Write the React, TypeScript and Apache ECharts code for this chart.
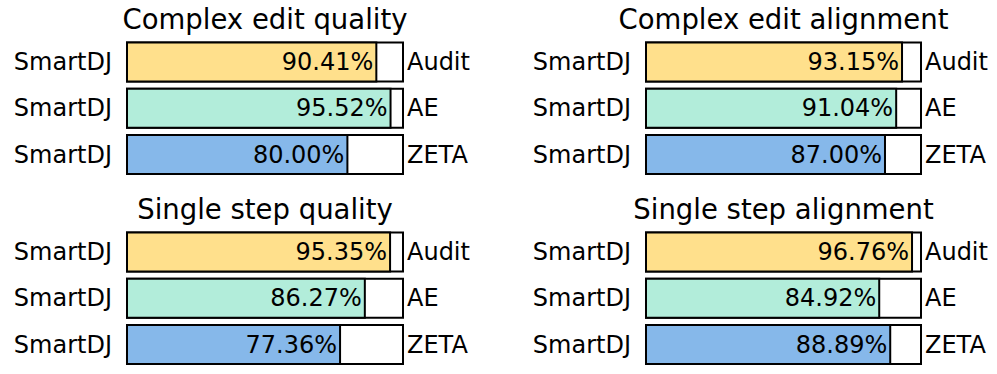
import React, { useEffect, useRef } from "react";
import * as echarts from "echarts";

const panelTitles = [
  "Complex edit quality",
  "Complex edit alignment",
  "Single step quality",
  "Single step alignment",
];
const baselineNames = ["Audit", "AE", "ZETA"];
const systemName = "SmartDJ";
const complexQuality = [90.41, 95.52, 80.0];
const complexAlignment = [93.15, 91.04, 87.0];
const singleQuality = [95.35, 86.27, 77.36];
const singleAlignment = [96.76, 84.92, 88.89];
const fullScale = [100, 100, 100];
const barColors = ["#FFE08C", "#B2EDDA", "#86B8EA"];

const panelValues = [complexQuality, complexAlignment, singleQuality, singleAlignment];

const FONT = '"DejaVu Sans", sans-serif';

export default function App() {
  const ref = useRef<HTMLDivElement>(null);
  useEffect(() => {
    if (!ref.current) return;
    const chart = echarts.init(ref.current, null, { renderer: "svg" });
    const gridPos = [
      { left: 126, top: 39, width: 278, height: 138.6 },
      { left: 645, top: 39, width: 277, height: 138.6 },
      { left: 126, top: 229, width: 278, height: 138.6 },
      { left: 645, top: 229, width: 277, height: 138.6 },
    ];
    const titleY = [18.5, 18.5, 208.5, 208.5];
    const grids: any[] = [];
    const xAxes: any[] = [];
    const yAxes: any[] = [];
    const series: any[] = [];
    const graphics: any[] = [];
    panelValues.forEach((vals, i) => {
      const g = gridPos[i];
      grids.push({ ...g, containLabel: false });
      xAxes.push({ gridIndex: i, type: "value", min: 0, max: 100, show: false });
      const baseY = {
        gridIndex: i,
        type: "category",
        data: baselineNames,
        inverse: true,
        axisLine: { show: false },
        axisTick: { show: false },
        splitLine: { show: false },
      };
      yAxes.push({
        ...baseY,
        position: "left",
        axisLabel: {
          margin: 14,
          color: "#000",
          fontSize: 24,
          fontFamily: FONT,
          formatter: () => systemName,
        },
      });
      yAxes.push({
        ...baseY,
        position: "right",
        axisLabel: { margin: 3, color: "#000", fontSize: 24, fontFamily: FONT },
      });
      series.push({
        type: "bar",
        xAxisIndex: i,
        yAxisIndex: 2 * i,
        data: fullScale,
        barWidth: 41,
        barGap: "-100%",
        itemStyle: { color: "#fff", borderColor: "#000", borderWidth: 2 },
        silent: true,
        z: 1,
      });
      series.push({
        type: "bar",
        xAxisIndex: i,
        yAxisIndex: 2 * i,
        data: vals.map((v, k) => ({ value: v, itemStyle: { color: barColors[k] } })),
        barWidth: 41,
        barGap: "-100%",
        itemStyle: { borderColor: "#000", borderWidth: 2 },
        label: {
          show: true,
          position: "insideRight",
          distance: 4,
          color: "#000",
          fontSize: 24,
          fontFamily: FONT,
          formatter: (p: any) => p.value.toFixed(2) + "%",
        },
        z: 2,
      });
      graphics.push({
        type: "text",
        x: g.left + g.width / 2,
        y: titleY[i],
        style: {
          text: panelTitles[i],
          fill: "#000",
          font: `27.5px ${FONT}`,
          align: "center",
          verticalAlign: "middle",
        },
      });
    });
    chart.setOption({
      animation: false,
      backgroundColor: "#fff",
      grid: grids,
      xAxis: xAxes,
      yAxis: yAxes,
      series,
      graphic: graphics,
    });
    return () => chart.dispose();
  }, []);
  return (
    <div
      ref={ref}
      style={{ position: "absolute", left: 0, top: 0, width: 997, height: 374 }}
    />
  );
}
